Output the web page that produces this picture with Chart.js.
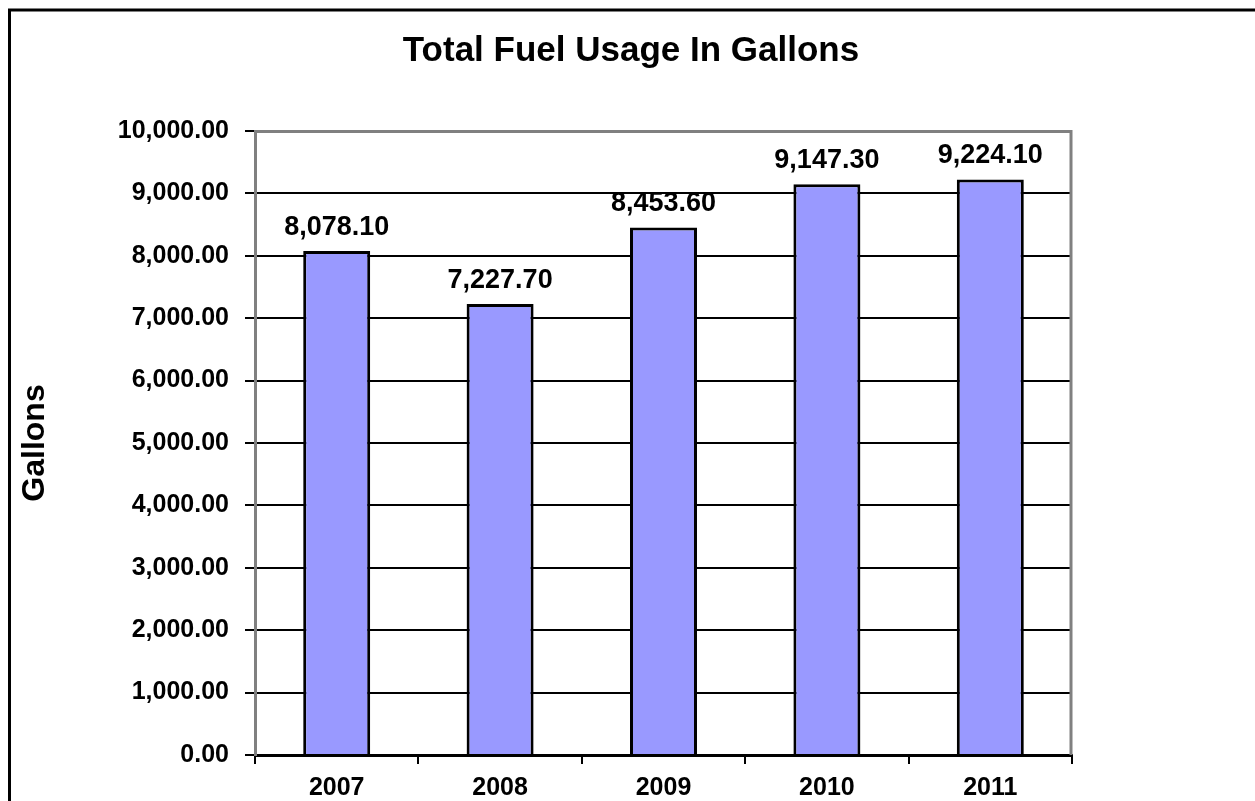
<!DOCTYPE html>
<html>
<head>
<meta charset="utf-8">
<title>Total Fuel Usage In Gallons</title>
<script src="https://cdn.jsdelivr.net/npm/chart.js@4/dist/chart.umd.min.js"></script>
<style>
  html, body { margin: 0; padding: 0; background: #ffffff; }
  #chart { display: block; }
</style>
</head>
<body>
<canvas id="chart" width="1255" height="801"></canvas>
<script>
// Fiscal years and total gallons of fuel used in each
const years = ['2007', '2008', '2009', '2010', '2011'];
const gallons = [8078.10, 7227.70, 8453.60, 9147.30, 9224.10];

// Value axis range and spacing
const yMin = 0;
const yMax = 10000;
const yStep = 1000;

const chartTitle = 'Total Fuel Usage In Gallons';
const yAxisTitle = 'Gallons';

const FONT = '"Liberation Sans", Arial, Helvetica, sans-serif';

function fmt(v) {
  return Number(v).toLocaleString('en-US', { minimumFractionDigits: 2, maximumFractionDigits: 2 });
}

// Black frame along the top and left of the whole chart
const outerFrame = {
  id: 'outerFrame',
  beforeDraw(chart) {
    const ctx = chart.ctx;
    ctx.save();
    ctx.strokeStyle = '#000';
    ctx.lineWidth = 3;
    ctx.beginPath();
    ctx.moveTo(9.5, chart.height);
    ctx.lineTo(9.5, 10);
    ctx.lineTo(chart.width, 10);
    ctx.stroke();
    ctx.restore();
  }
};

// Grey border on the top and right sides of the plot area
const plotFrame = {
  id: 'plotFrame',
  beforeDatasetsDraw(chart) {
    const { ctx, chartArea: a } = chart;
    ctx.save();
    ctx.strokeStyle = '#808080';
    ctx.lineWidth = 3;
    ctx.beginPath();
    ctx.moveTo(a.left, a.top + 0.5);
    ctx.lineTo(a.right - 1, a.top + 0.5);
    ctx.lineTo(a.right - 1, a.bottom);
    ctx.stroke();
    ctx.restore();
  }
};

// Value printed above each bar
const barValues = {
  id: 'barValues',
  afterDatasetsDraw(chart) {
    const ctx = chart.ctx;
    const meta = chart.getDatasetMeta(0);
    const data = chart.data.datasets[0].data;
    ctx.save();
    ctx.font = 'bold 27px ' + FONT;
    ctx.fillStyle = '#000';
    ctx.textAlign = 'center';
    ctx.textBaseline = 'alphabetic';
    meta.data.forEach((bar, i) => {
      ctx.fillText(fmt(data[i]), bar.x, bar.y - 16);
    });
    ctx.restore();
  }
};

new Chart(document.getElementById('chart'), {
  type: 'bar',
  data: {
    labels: years,
    datasets: [{
      data: gallons,
      backgroundColor: '#9999FF',
      borderColor: '#000000',
      borderWidth: 3,
      borderSkipped: 'bottom',
      categoryPercentage: 1.0,
      barPercentage: 0.41
    }]
  },
  options: {
    responsive: false,
    animation: false,
    devicePixelRatio: 1,
    layout: { padding: { top: 12, left: 12, right: 5, bottom: 0 } },
    plugins: {
      legend: { display: false },
      tooltip: { enabled: false },
      title: {
        display: true,
        text: chartTitle,
        color: '#000',
        font: { family: FONT, size: 35, weight: 'bold' },
        padding: { top: 18, bottom: 59 }
      }
    },
    scales: {
      x: {
        grid: {
          display: true,
          offset: true,
          drawOnChartArea: false,
          drawTicks: true,
          tickLength: 9,
          color: '#000',
          lineWidth: 2
        },
        border: { display: true, color: '#000', width: 3 },
        ticks: {
          color: '#000',
          font: { family: FONT, size: 25, weight: 'bold' },
          padding: 9,
          maxRotation: 0
        },
        afterFit(scale) { scale.height = 46; }
      },
      y: {
        min: yMin,
        max: yMax,
        grid: {
          color: '#000',
          lineWidth: 2,
          drawTicks: true,
          tickLength: 10
        },
        border: { display: true, color: '#808080', width: 3 },
        ticks: {
          stepSize: yStep,
          color: '#000',
          font: { family: FONT, size: 25, weight: 'bold' },
          padding: 16,
          callback: (v) => fmt(v)
        },
        title: {
          display: true,
          text: yAxisTitle,
          color: '#000',
          font: { family: FONT, size: 32, weight: 'bold' },
          padding: { top: 4, bottom: 0 }
        },
        afterFit(scale) { scale.width = 243; }
      },
      // Empty right-hand margin so the plot stops short of the canvas edge
      // while the title stays centred on the full width
      rightMargin: {
        type: 'linear',
        position: 'right',
        display: true,
        grid: { display: false },
        border: { display: false },
        ticks: { display: false },
        afterFit(scale) { scale.width = 178; }
      }
    }
  },
  plugins: [outerFrame, plotFrame, barValues]
});
</script>
</body>
</html>
